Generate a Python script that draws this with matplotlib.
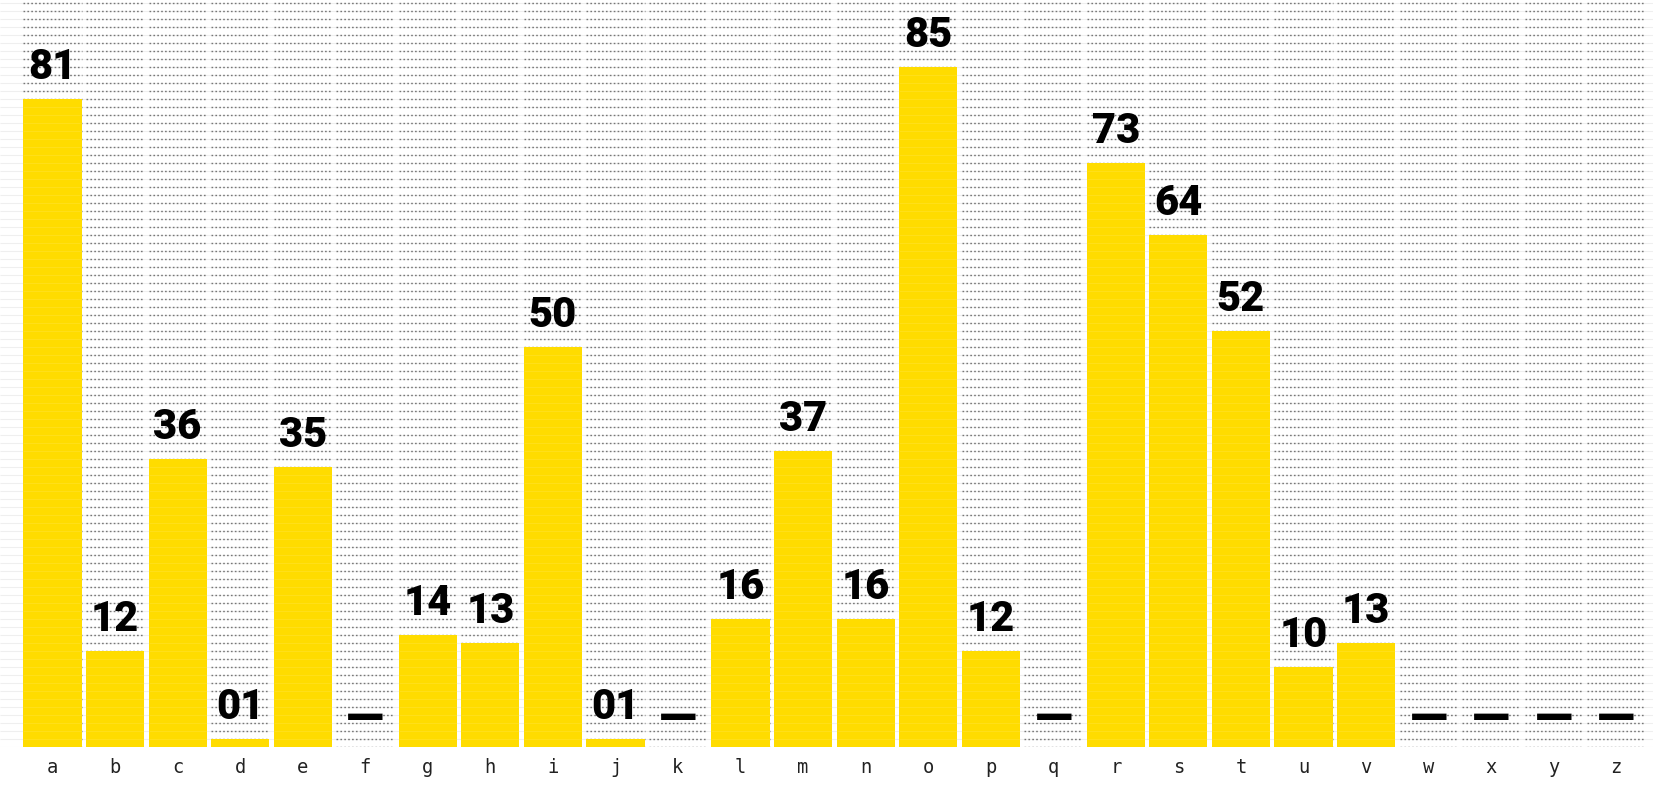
import matplotlib.pyplot as plt
from matplotlib import font_manager
import numpy as np

letters = list("abcdefghijklmnopqrstuvwxyz")
counts = [81, 12, 36, 1, 35, 0, 14, 13, 50, 1, 0, 16, 37,
          16, 85, 12, 0, 73, 64, 52, 10, 13, 0, 0, 0, 0]

yellow = "#FFDC00"
W, H = 1653, 795
base_px = 747          # pixel row of the baseline
unit_px = 8            # one count = one dotted row
step_px = 62.55
first_px = 52.5


def heavy_font(size):
    # pick the heaviest installed face from a few sans families
    prefs = ["Roboto", "Lato", "Inter", "Noto Sans", "Open Sans"]
    for name in prefs:
        faces = [f for f in font_manager.fontManager.ttflist
                 if f.name == name and f.style == "normal"
                 and isinstance(f.weight, int) and f.weight >= 800]
        if faces:
            best = max(faces, key=lambda f: f.weight)
            return font_manager.FontProperties(fname=best.fname, size=size)
    return font_manager.FontProperties(family="DejaVu Sans",
                                       weight="bold", size=size)


label_font = heavy_font(30)
dash_font = heavy_font(36)

fig = plt.figure(figsize=(W / 100, H / 100), dpi=100)
ax = fig.add_axes([0, 1 - base_px / H, 1, base_px / H])
ax.set_xlim(-first_px / step_px, (W - first_px) / step_px)
ax.set_ylim(0, base_px / unit_px)

x = np.arange(len(letters))
bw = 0.93
rows = np.arange(0, int(base_px / unit_px) + 1)

# faint full-width rules
ax.hlines(rows, *ax.get_xlim(), colors="#efefef", lw=0.8, zorder=0)

# dotted rows inside every column
for xi in x:
    ax.hlines(rows, xi - bw / 2, xi + bw / 2, colors="#777777",
              lw=1.0, linestyles=(0, (1.2, 1.6)), zorder=1)

ax.bar(x, counts, width=bw, color=yellow, zorder=2, linewidth=0)

# light seams across the bars
for xi, c in zip(x, counts):
    if c > 0:
        ax.hlines(np.arange(1, c), xi - bw / 2, xi + bw / 2,
                  colors="white", lw=0.6, alpha=0.12, zorder=3)

for xi, c in zip(x, counts):
    if c > 0:
        ax.annotate(f"{c:02d}", (xi, c), xytext=(0, 14.5),
                    textcoords="offset points", ha="center", va="baseline",
                    fontproperties=label_font, color="black", zorder=4)
    else:
        ax.annotate("\u2014", (xi, c), xytext=(0, 9),
                    textcoords="offset points", ha="center", va="baseline",
                    fontproperties=dash_font, color="black", zorder=4)

ax.set_xticks(x)
ax.set_xticklabels(letters, family="DejaVu Sans Mono", fontsize=13.5,
                   color="#222222")
ax.tick_params(axis="x", length=0, pad=8)
ax.set_yticks([])
for s in ax.spines.values():
    s.set_visible(False)

fig.savefig("out.png", dpi=100)
